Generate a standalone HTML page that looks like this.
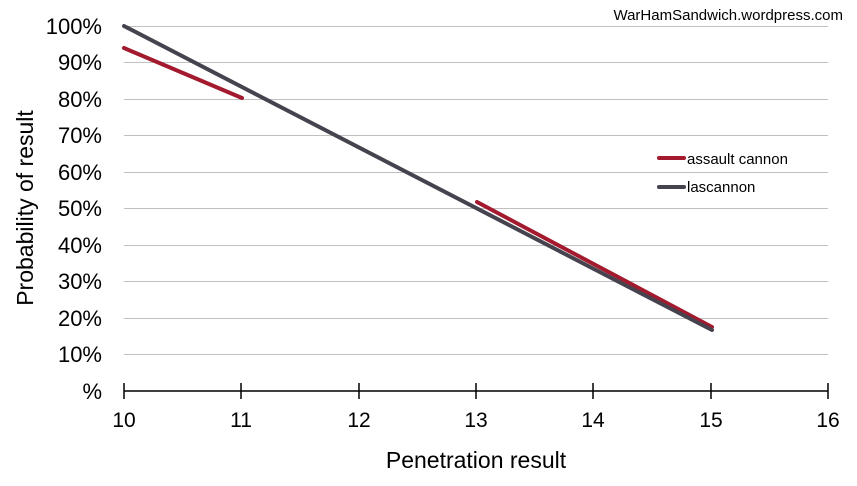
<!DOCTYPE html><html><head><style>body{margin:0;background:#fff}</style></head><body>
<svg width="857" height="481" xmlns="http://www.w3.org/2000/svg" font-family="Liberation Sans, Arial, sans-serif">
<rect width="857" height="481" fill="#fff"/>
<g stroke="#c0c0c0" stroke-width="1">
<line x1="124" x2="828" y1="26.5" y2="26.5"/><line x1="124" x2="828" y1="62.5" y2="62.5"/><line x1="124" x2="828" y1="99.5" y2="99.5"/><line x1="124" x2="828" y1="135.5" y2="135.5"/><line x1="124" x2="828" y1="172.5" y2="172.5"/><line x1="124" x2="828" y1="208.5" y2="208.5"/><line x1="124" x2="828" y1="245.5" y2="245.5"/><line x1="124" x2="828" y1="281.5" y2="281.5"/><line x1="124" x2="828" y1="318.5" y2="318.5"/><line x1="124" x2="828" y1="354.5" y2="354.5"/>
</g>
<g stroke="#000" stroke-width="1.5">
<line x1="124" x2="828" y1="391" y2="391"/>
<line x1="124" x2="124" y1="383" y2="399"/><line x1="241" x2="241" y1="383" y2="399"/><line x1="359" x2="359" y1="383" y2="399"/><line x1="476" x2="476" y1="383" y2="399"/><line x1="593" x2="593" y1="383" y2="399"/><line x1="711" x2="711" y1="383" y2="399"/><line x1="828" x2="828" y1="383" y2="399"/>
</g>
<g font-size="22" text-anchor="end" fill="#000">
<text x="102" y="34">100%</text><text x="102" y="70">90%</text><text x="102" y="107">80%</text><text x="102" y="143">70%</text><text x="102" y="180">60%</text><text x="102" y="216">50%</text><text x="102" y="253">40%</text><text x="102" y="289">30%</text><text x="102" y="326">20%</text><text x="102" y="362">10%</text><text x="102" y="399">%</text>
</g>
<g font-size="21" text-anchor="middle">
<text x="124" y="427">10</text><text x="241" y="427">11</text><text x="359" y="427">12</text><text x="476" y="427">13</text><text x="593" y="427">14</text><text x="711" y="427">15</text><text x="828" y="427">16</text>
</g>
<text x="476" y="468" font-size="23" text-anchor="middle">Penetration result</text>
<text transform="translate(33,208) rotate(-90)" font-size="23" text-anchor="middle">Probability of result</text>
<text x="843" y="20" font-size="15" text-anchor="end">WarHamSandwich.wordpress.com</text>
<g stroke-width="4" stroke-linecap="round" fill="none">
<line x1="124" y1="48" x2="242" y2="98" stroke="#a31a2e"/>
<line x1="477" y1="202" x2="712" y2="327" stroke="#a31a2e"/>
<line x1="124" y1="26" x2="712" y2="330" stroke="#46434f"/>
<line x1="659" y1="158" x2="684" y2="158" stroke="#a31a2e"/>
<line x1="659" y1="187" x2="684" y2="187" stroke="#46434f"/>
</g>
<text x="687" y="164" font-size="15">assault cannon</text>
<text x="687" y="192" font-size="15">lascannon</text>
</svg>
</body></html>
